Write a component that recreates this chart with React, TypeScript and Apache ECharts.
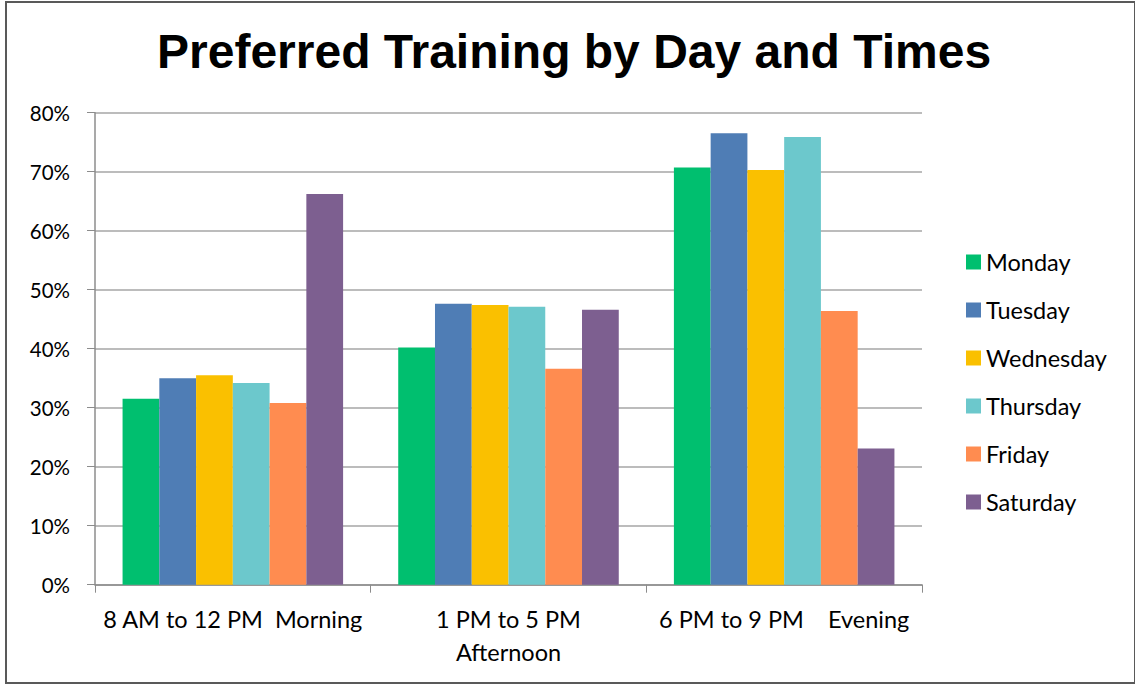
import React, { useEffect, useRef } from "react";
import * as echarts from "echarts";

const categories = ["8 AM to 12 PM  Morning", "1 PM to 5 PM\nAfternoon", "6 PM to 9 PM    Evening"];
const days = ["Monday", "Tuesday", "Wednesday", "Thursday", "Friday", "Saturday"];
const colors = ["#00BF6F", "#4F7DB5", "#FAC000", "#6CC8CC", "#FF8C50", "#7D5F90"];
const monday = [31.5, 40.2, 70.7];
const tuesday = [35.0, 47.6, 76.5];
const wednesday = [35.5, 47.4, 70.3];
const thursday = [34.2, 47.1, 75.9];
const friday = [30.8, 36.6, 46.4];
const saturday = [66.2, 46.6, 23.1];
const seriesValues = [monday, tuesday, wednesday, thursday, friday, saturday];
const yTicks = { min: 0, max: 80, interval: 10 };

const FONT = "Lato";

export default function App() {
  const ref = useRef<HTMLDivElement>(null);
  useEffect(() => {
    document.body.style.margin = "0";
    const chart = echarts.init(ref.current!, null, { renderer: "svg" });
    chart.setOption({
      animation: false,
      backgroundColor: "#ffffff",
      title: {
        text: "Preferred Training by Day and Times",
        left: 152,
        top: 22,
        textStyle: { fontFamily: "Liberation Sans", fontWeight: "bold", fontSize: 48, color: "#000" },
      },
      graphic: [
        {
          type: "rect",
          shape: { x: 6, y: 2, width: 1129, height: 681 },
          style: { fill: "none", stroke: "#595959", lineWidth: 2 },
          silent: true,
        },
      ],
      legend: {
        orient: "vertical",
        left: 961,
        top: 245,
        itemWidth: 15,
        itemHeight: 15,
        itemGap: 24,
        icon: "rect",
        textStyle: { fontFamily: FONT, fontSize: 23.5, color: "#000", lineHeight: 24 },
        data: days,
      },
      grid: { left: 95, right: 213, top: 112.7, bottom: 99.3, containLabel: false },
      xAxis: {
        type: "category",
        data: categories,
        axisLine: { lineStyle: { color: "#8c8c8c", width: 1.5 } },
        axisTick: { show: true, length: 8, alignWithLabel: false, lineStyle: { color: "#8c8c8c" } },
        axisLabel: { fontFamily: FONT, fontSize: 23.5, color: "#000", margin: 18, lineHeight: 33, interval: 0 },
      },
      yAxis: {
        type: "value",
        min: yTicks.min,
        max: yTicks.max,
        interval: yTicks.interval,
        axisLine: { show: true, lineStyle: { color: "#8c8c8c", width: 1.5 } },
        axisTick: { show: true, length: 8, lineStyle: { color: "#8c8c8c" } },
        splitLine: { lineStyle: { color: "#a6a6a6", width: 1.5 } },
        axisLabel: { fontFamily: FONT, fontSize: 20.5, color: "#000", margin: 25, formatter: "{value}%" },
      },
      series: days.map((d, i) => ({
        name: d,
        type: "bar",
        data: seriesValues[i],
        barGap: "0%",
        barCategoryGap: "20%",
        itemStyle: { color: colors[i] },
      })),
    });
    return () => chart.dispose();
  }, []);
  return <div ref={ref} style={{ width: 1135, height: 684 }} />;
}
